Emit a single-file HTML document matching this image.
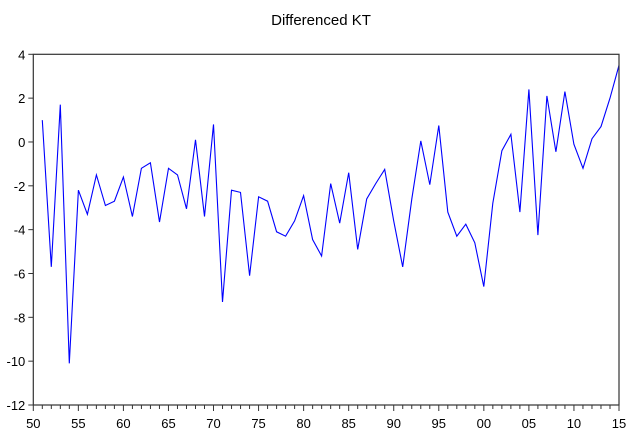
<!DOCTYPE html>
<html><head><meta charset="utf-8"><style>
body{margin:0;background:#fff;}
svg text{font-family:"Liberation Sans",sans-serif;font-size:13px;fill:#000;}
</style></head><body>
<svg width="635" height="438" xmlns="http://www.w3.org/2000/svg">
<text x="321" y="25" text-anchor="middle" style="font-size:15px">Differenced KT</text>
<g id="axes"></g>
<polyline id="line" fill="none" stroke="#0000ff" stroke-width="1.1"/>
<rect x="33.3" y="54.3" width="585.7" height="350.7" fill="none" stroke="#333" stroke-width="1.2"/>
</svg>
<script>
const years=[1951,1952,1953,1954,1955,1956,1957,1958,1959,1960,1961,1962,1963,1964,1965,1966,1967,1968,1969,1970,1971,1972,1973,1974,1975,1976,1977,1978,1979,1980,1981,1982,1983,1984,1985,1986,1987,1988,1989,1990,1991,1992,1993,1994,1995,1996,1997,1998,1999,2000,2001,2002,2003,2004,2005,2006,2007,2008,2009,2010,2011,2012,2013,2014,2015];
const values=[1.0,-5.7,1.7,-10.1,-2.2,-3.3,-1.5,-2.9,-2.7,-1.6,-3.4,-1.2,-0.95,-3.65,-1.2,-1.5,-3.05,0.1,-3.4,0.8,-7.3,-2.2,-2.3,-6.1,-2.5,-2.7,-4.1,-4.3,-3.6,-2.45,-4.45,-5.2,-1.9,-3.7,-1.4,-4.9,-2.6,-1.9,-1.25,-3.6,-5.7,-2.6,0.05,-1.95,0.75,-3.2,-4.3,-3.75,-4.6,-6.6,-2.8,-0.4,0.35,-3.2,2.4,-4.25,2.1,-0.45,2.3,-0.1,-1.2,0.15,0.7,2.0,3.5];
const yTicks=[4,2,0,-2,-4,-6,-8,-10,-12];
const xTickLabels=["50","55","60","65","70","75","80","85","90","95","00","05","10","15"];
const X0=33.3,X1=619,Y0=405,Y1=54.3;
function xs(yr){return X0+(yr-1950)/65*(X1-X0);}
function ys(v){return Y0-(v+12)/16*(Y0-Y1);}
const NS="http://www.w3.org/2000/svg";
const g=document.getElementById('axes');
function mk(t,a){const e=document.createElementNS(NS,t);for(const k in a)e.setAttribute(k,a[k]);g.appendChild(e);return e;}
yTicks.forEach(v=>{
  const l=mk('line',{x1:X0-5,x2:X0,y1:ys(v),y2:ys(v),stroke:'#333'});
  
  
  const t=mk('text',{x:X0-8,y:ys(v)+5,'text-anchor':'end'});
  t.textContent=v;
  
  
});
for(let yr=1950;yr<=2015;yr++){
  const major=yr%5===0;
  const l=mk('line',{x1:xs(yr),x2:xs(yr),y1:Y0,y2:Y0+(major?6:4),stroke:'#333'});
  
  
}
xTickLabels.forEach((s,i)=>{
  const t=mk('text',{x:xs(1950+i*5),y:Y0+23,'text-anchor':'middle'});
  t.textContent=s;
  
  
});
document.getElementById('line').setAttribute('points',years.map((y,i)=>xs(y).toFixed(1)+','+ys(values[i]).toFixed(1)).join(' '));
</script>
</body></html>
